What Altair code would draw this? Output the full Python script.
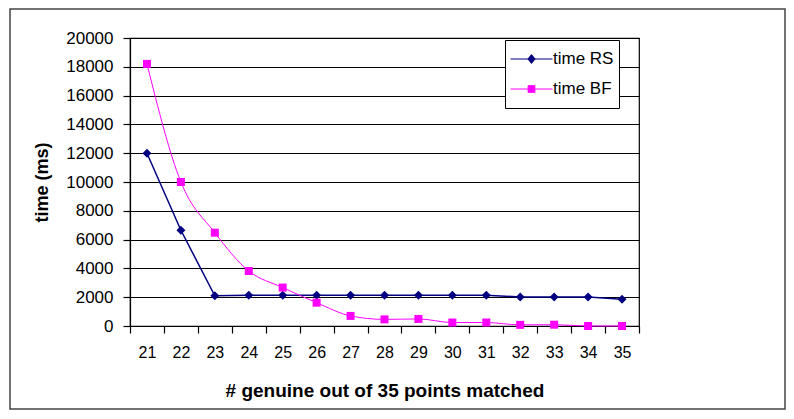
import altair as alt
import pandas as pd

# ---- data ----
x_cats = [21, 22, 23, 24, 25, 26, 27, 28, 29, 30, 31, 32, 33, 34, 35]
time_rs = [12000, 6650, 2100, 2130, 2130, 2130, 2130, 2130, 2130, 2130, 2130, 2020, 2020, 2020, 1860]
time_bf = [18200, 10000, 6480, 3820, 2670, 1620, 700, 460, 490, 240, 240, 80, 90, 0, 0]
series_names = ["time RS", "time BF"]
series_colors = ["#000080", "#FF00FF"]
y_ticks = list(range(0, 20001, 2000))

rows = []
for name, vals in zip(series_names, [time_rs, time_bf]):
    for xv, yv in zip(x_cats, vals):
        rows.append({"x": xv, "y": yv, "series": name})
df = pd.DataFrame(rows)

FONT = "Liberation Sans"
W, H = 509, 288

xenc = alt.X("x:O", bandPosition=0.5,
             scale=alt.Scale(type="band", domain=x_cats, paddingInner=0, paddingOuter=0),
             axis=alt.Axis(title="# genuine out of 35 points matched", labelAngle=0,
                           tickBand="extent", tickSize=7, labelPadding=11,
                           labelFont=FONT, labelFontSize=16, labelColor="#000",
                           titleFont=FONT, titleFontSize=19, titleFontWeight="bold", titleColor="#000",
                           titleX=W / 2, titleY=64, titleBaseline="middle",
                           domainColor="#000", domainWidth=1.2, tickColor="#000", tickWidth=1.2,
                           grid=False))
yenc = alt.Y("y:Q",
             scale=alt.Scale(domain=[0, 20000], nice=False),
             axis=alt.Axis(title="time (ms)", values=y_ticks, format="d",
                           tickSize=7, labelPadding=10,
                           labelFont=FONT, labelFontSize=17, labelColor="#000",
                           titleFont=FONT, titleFontSize=18, titleFontWeight="bold", titleColor="#000",
                           titleX=-88, titleY=H / 2, titleBaseline="middle", titleAngle=270,
                           domainColor="#000", domainWidth=1.2, tickColor="#000", tickWidth=1.2,
                           grid=True, gridColor="#000", gridWidth=1.2))

color_scale = alt.Scale(domain=series_names, range=series_colors)

base = alt.Chart(df)

line_rs = base.transform_filter(alt.datum.series == "time RS").mark_line(
    strokeWidth=1.5).encode(x=xenc, y=yenc,
                            color=alt.Color("series:N", scale=color_scale, legend=None))
line_bf = base.transform_filter(alt.datum.series == "time BF").mark_line(
    strokeWidth=1, interpolate="monotone").encode(x=xenc, y=yenc,
                                                  color=alt.Color("series:N", scale=color_scale, legend=None))
pts_rs = base.transform_filter(alt.datum.series == "time RS").mark_point(
    filled=True, opacity=1, shape="diamond", size=80).encode(
    x=xenc, y=yenc, color=alt.Color("series:N", scale=color_scale, legend=None))
pts_bf = base.transform_filter(alt.datum.series == "time BF").mark_point(
    filled=True, opacity=1, shape="square", size=64).encode(
    x=xenc, y=yenc, color=alt.Color("series:N", scale=color_scale, legend=None))

# legend-only layer (no marks drawn: empty after filter)
legend_paths = [
    "M-1,0H1M0,-0.21L0.17,0L0,0.21L-0.17,0Z",
    "M-1,0H1M-0.16,-0.16H0.16V0.16H-0.16Z",
]
leg = alt.Legend(title=None, orient="none", legendX=375, legendY=2,
                 strokeColor="#000", fillColor="#fff", padding=5,
                 labelFont=FONT, labelFontSize=17, labelColor="#000",
                 symbolSize=1764, clipHeight=28, rowPadding=2, labelOffset=0,
                 symbolStrokeWidth=1)
legend_layer = base.transform_filter(alt.datum.y < -1).mark_point(filled=True, opacity=1).encode(
    x=xenc, y=yenc,
    fill=alt.Fill("series:N", scale=alt.Scale(domain=series_names, range=series_colors), legend=leg),
    stroke=alt.Stroke("series:N", scale=alt.Scale(domain=series_names, range=series_colors), legend=leg),
    shape=alt.Shape("series:N", scale=alt.Scale(domain=series_names, range=legend_paths), legend=leg),
)

frame = alt.Chart(alt.Data(values=[{"a": 1}])).mark_rect(
    fill="transparent", stroke="#444", strokeWidth=1.5).encode(
    x=alt.value(-120), x2=alt.value(655), y=alt.value(-29), y2=alt.value(371))

chart = alt.layer(frame, line_rs, line_bf, pts_rs, pts_bf, legend_layer).resolve_scale(
    fill="independent", stroke="independent", shape="independent").properties(
    width=W, height=H,
    autosize=alt.AutoSizeParams(type="none"),
    padding={"left": 122, "top": 30, "right": 147, "bottom": 85},
    background="white",
).configure_view(stroke="#000", strokeWidth=1.2)

chart.save("out.html", embed_options={"renderer": "svg", "actions": False})
